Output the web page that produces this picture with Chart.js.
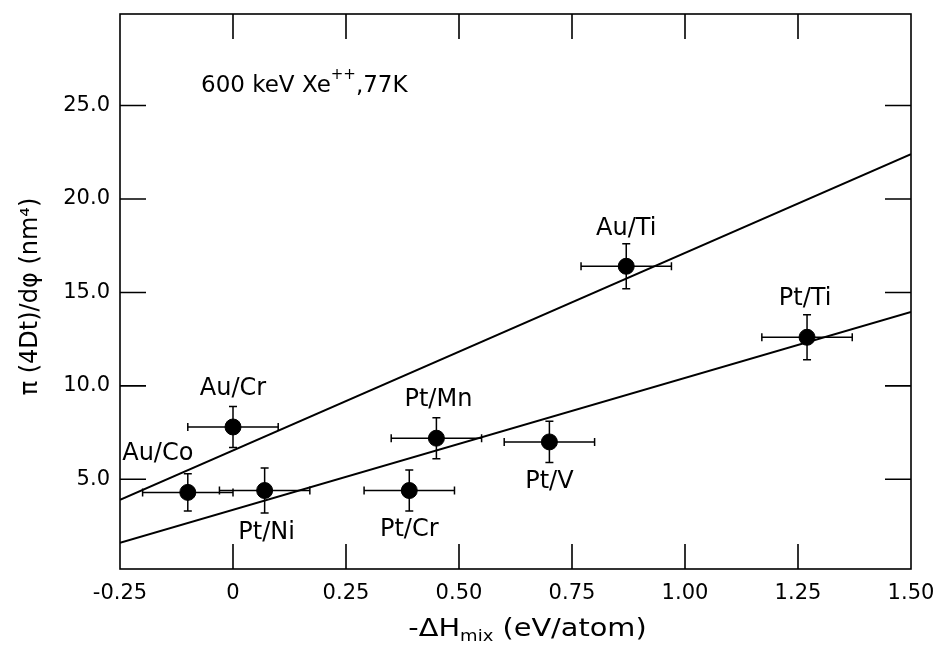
<!DOCTYPE html>
<html>
<head>
<meta charset="utf-8">
<script src="https://cdn.jsdelivr.net/npm/chart.js@4/dist/chart.umd.min.js"></script>
<style>
  html, body { margin: 0; padding: 0; background: #fff; }
</style>
</head>
<body>
<canvas id="mixChart" width="935" height="646"></canvas>
<script>
// Data
const systems = ["Au/Co", "Au/Cr", "Pt/Ni", "Pt/Cr", "Pt/Mn", "Pt/V", "Au/Ti", "Pt/Ti"];
const enthalpy = [-0.10, 0.00, 0.07, 0.39, 0.45, 0.70, 0.87, 1.27];
const mixing = [4.3, 7.8, 4.4, 4.4, 7.2, 7.0, 16.4, 12.6];
const enthalpyErr = [0.10, 0.10, 0.10, 0.10, 0.10, 0.10, 0.10, 0.10];
const mixingErr = [1.0, 1.1, 1.2, 1.1, 1.1, 1.1, 1.2, 1.2];
const fitX = [-0.25, 1.50];
const fitUpper = [3.9, 22.4];
const fitLower = [1.6, 13.95];
const xTicks = [-0.25, 0, 0.25, 0.5, 0.75, 1.0, 1.25, 1.5];
const yTicks = [5, 10, 15, 20, 25];

// label placement relative to each point (px)
const labelOffsets = [[-30, -39], [0, -38], [2, 42], [0, 39], [2, -38], [0, 40], [0, -38], [-2, -39]];

const FONT = "'DejaVu Sans', 'Liberation Sans', sans-serif";

function toXY(xs, ys) {
    return xs.map((x, i) => ({ x: x, y: ys[i] }));
}

// Error bars, frame, inward ticks, labels and axis titles
const decorPlugin = {
    id: "decor",
    afterDatasetsDraw(chart) {
        const ctx = chart.ctx;
        const xs = chart.scales.x;
        const ys = chart.scales.y;
        const area = chart.chartArea;

        ctx.save();
        ctx.strokeStyle = "#000";
        ctx.fillStyle = "#000";

        // error bars
        ctx.lineWidth = 1.5;
        enthalpy.forEach((x, i) => {
            const px = xs.getPixelForValue(x);
            const py = ys.getPixelForValue(mixing[i]);
            const x0 = xs.getPixelForValue(x - enthalpyErr[i]);
            const x1 = xs.getPixelForValue(x + enthalpyErr[i]);
            const y0 = ys.getPixelForValue(mixing[i] - mixingErr[i]);
            const y1 = ys.getPixelForValue(mixing[i] + mixingErr[i]);
            ctx.beginPath();
            ctx.moveTo(x0, py); ctx.lineTo(x1, py);
            ctx.moveTo(x0, py - 4); ctx.lineTo(x0, py + 4);
            ctx.moveTo(x1, py - 4); ctx.lineTo(x1, py + 4);
            ctx.moveTo(px, y0); ctx.lineTo(px, y1);
            ctx.moveTo(px - 4, y0); ctx.lineTo(px + 4, y0);
            ctx.moveTo(px - 4, y1); ctx.lineTo(px + 4, y1);
            ctx.stroke();
        });

        // frame
        ctx.lineWidth = 1.6;
        ctx.strokeRect(area.left, area.top, area.right - area.left, area.bottom - area.top);

        // inward ticks on all four sides
        ctx.beginPath();
        xTicks.forEach(v => {
            const p = xs.getPixelForValue(v);
            if (p <= area.left + 1 || p >= area.right - 1) return;
            ctx.moveTo(p, area.bottom); ctx.lineTo(p, area.bottom - 25);
            ctx.moveTo(p, area.top); ctx.lineTo(p, area.top + 25);
        });
        yTicks.forEach(v => {
            const p = ys.getPixelForValue(v);
            ctx.moveTo(area.left, p); ctx.lineTo(area.left + 26, p);
            ctx.moveTo(area.right, p); ctx.lineTo(area.right - 26, p);
        });
        ctx.stroke();

        // point labels
        ctx.font = "24px " + FONT;
        ctx.textAlign = "center";
        ctx.textBaseline = "middle";
        systems.forEach((name, i) => {
            const px = xs.getPixelForValue(enthalpy[i]) + labelOffsets[i][0];
            const py = ys.getPixelForValue(mixing[i]) + labelOffsets[i][1];
            ctx.fillText(name, px, py);
        });

        // beam condition note
        ctx.textAlign = "left";
        let tx = area.left + 81;
        const ty = area.top + 72;
        ctx.font = "23px " + FONT;
        ctx.fillText("600 keV Xe", tx, ty);
        tx += ctx.measureText("600 keV Xe").width;
        ctx.font = "15px " + FONT;
        ctx.fillText("++", tx, ty - 11);
        tx += ctx.measureText("++").width;
        ctx.font = "23px " + FONT;
        ctx.fillText(",77K", tx, ty);

        // x axis title with subscript, slightly widened like the print
        const parts = [["-ΔH", 24, 0], ["mix", 15, 7], [" (eV/atom)", 24, 0]];
        let total = 0;
        parts.forEach(p => { ctx.font = p[1] + "px " + FONT; total += ctx.measureText(p[0]).width; });
        ctx.save();
        ctx.translate((area.left + area.right) / 2 + 12, 630);
        ctx.scale(1.2, 1);
        let cx = -total / 2;
        parts.forEach(p => {
            ctx.font = p[1] + "px " + FONT;
            ctx.fillText(p[0], cx, p[2]);
            cx += ctx.measureText(p[0]).width;
        });
        ctx.restore();

        // y axis title
        ctx.translate(31, (area.top + area.bottom) / 2 + 5);
        ctx.rotate(-Math.PI / 2);
        ctx.textAlign = "center";
        ctx.font = "24px " + FONT;
        ctx.fillText("π (4Dt)/dφ (nm⁴)", 0, 0);

        ctx.restore();
    }
};

const ctx = document.getElementById("mixChart").getContext("2d");

new Chart(ctx, {
    type: "scatter",
    data: {
        datasets: [
            {
                label: "upper fit",
                type: "line",
                data: toXY(fitX, fitUpper),
                borderColor: "#000",
                borderWidth: 2,
                pointRadius: 0,
                fill: false,
            },
            {
                label: "lower fit",
                type: "line",
                data: toXY(fitX, fitLower),
                borderColor: "#000",
                borderWidth: 2,
                pointRadius: 0,
                fill: false,
            },
            {
                label: "systems",
                data: toXY(enthalpy, mixing),
                backgroundColor: "#000",
                borderColor: "#000",
                pointRadius: 8,
            },
        ],
    },
    options: {
        responsive: false,
        animation: false,
        layout: {
            padding: { left: 0, right: 24, top: 14, bottom: 0 },
        },
        plugins: {
            legend: { display: false },
            tooltip: { enabled: false },
        },
        scales: {
            x: {
                type: "linear",
                min: -0.25,
                max: 1.5,
                afterBuildTicks: axis => { axis.ticks = xTicks.map(v => ({ value: v })); },
                afterFit: axis => {
                    axis.height = 77;
                    axis.paddingLeft = 0;
                    axis.paddingRight = 0;
                },
                grid: { display: false, drawTicks: false },
                border: { display: false },
                ticks: {
                    color: "#000",
                    padding: 12,
                    font: { family: FONT, size: 21 },
                    callback: v => (v === 0 ? "0" : v.toFixed(2)),
                },
            },
            y: {
                type: "linear",
                min: 0.2,
                max: 29.9,
                afterBuildTicks: axis => { axis.ticks = yTicks.map(v => ({ value: v })); },
                afterFit: axis => {
                    axis.width = 120;
                    axis.paddingTop = 0;
                    axis.paddingBottom = 0;
                },
                grid: { display: false, drawTicks: false },
                border: { display: false },
                ticks: {
                    color: "#000",
                    padding: 10,
                    font: { family: FONT, size: 21 },
                    callback: v => v.toFixed(1),
                },
            },
        },
    },
    plugins: [decorPlugin],
});
</script>
</body>
</html>
